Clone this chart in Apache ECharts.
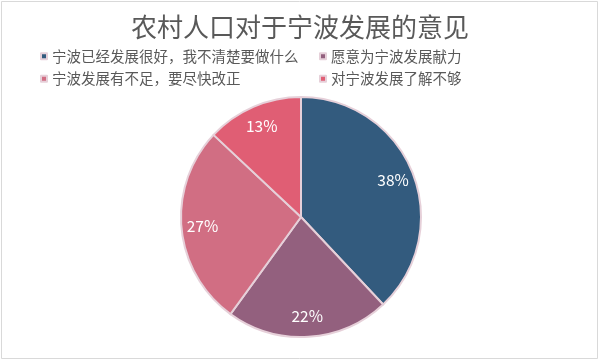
<!DOCTYPE html>
<html><head><meta charset="utf-8">
<script src="https://cdn.jsdelivr.net/npm/echarts@6/dist/echarts.min.js"></script>
<style>html,body{margin:0;padding:0;background:#fff}#c{width:600px;height:361px}</style>
</head><body><div id="c"></div>
<script>
const titleText = '农村人口对于宁波发展的意见';
const categories = ['宁波已经发展很好，我不清楚要做什么', '愿意为宁波发展献力', '宁波发展有不足，要尽快改正', '对宁波发展了解不够'];
const values = [38, 22, 27, 13];
const colors = ['#335B7E', '#93607E', '#D16E83', '#E05E74'];
const font = '"Microsoft YaHei","Noto Sans CJK SC",sans-serif';
const data = categories.map((n, i) => ({ name: n, value: values[i], itemStyle: { color: colors[i] } }));
const chart = echarts.init(document.getElementById('c'), null, { renderer: 'canvas' });
const legendBase = { orient: 'vertical', top: 44, itemWidth: 6, itemHeight: 6, itemGap: 8, icon: 'rect',
  textStyle: { fontFamily: font, fontSize: 14.5, color: '#595959' } };
chart.setOption({
  backgroundColor: '#fff',
  animation: false,
  title: { text: titleText, left: 'center', top: 9, textStyle: { fontFamily: font, fontSize: 26, fontWeight: 'normal', color: '#595959' } },
  graphic: [{ type: 'rect', shape: { x: 1.5, y: 1.5, width: 596, height: 357 }, style: { fill: 'none', stroke: '#D9D9D9', lineWidth: 1 }, silent: true }],
  legend: [
    Object.assign({ data: [categories[0], categories[2]], left: 35 }, legendBase),
    Object.assign({ data: [categories[1], categories[3]], left: 314 }, legendBase)
  ],
  series: [
    { type: 'pie', center: [301, 217], radius: [0, 120], startAngle: 90, clockwise: true, data: data,
      itemStyle: { borderColor: '#E6D0D9', borderWidth: 2 }, label: { show: false }, labelLine: { show: false }, silent: true },
    { type: 'pie', center: [301, 217], radius: [76, 116], startAngle: 90, clockwise: true, silent: true,
      avoidLabelOverlap: false,
      data: data.map(d => ({ name: d.name, value: d.value, itemStyle: { color: 'rgba(0,0,0,0)' } })),
      itemStyle: { borderWidth: 0 }, legendHoverLink: false,
      label: { show: true, position: 'inside', formatter: '{d}%', color: '#fff', fontSize: 15.5, fontFamily: font } }
  ]
});
</script></body></html>
